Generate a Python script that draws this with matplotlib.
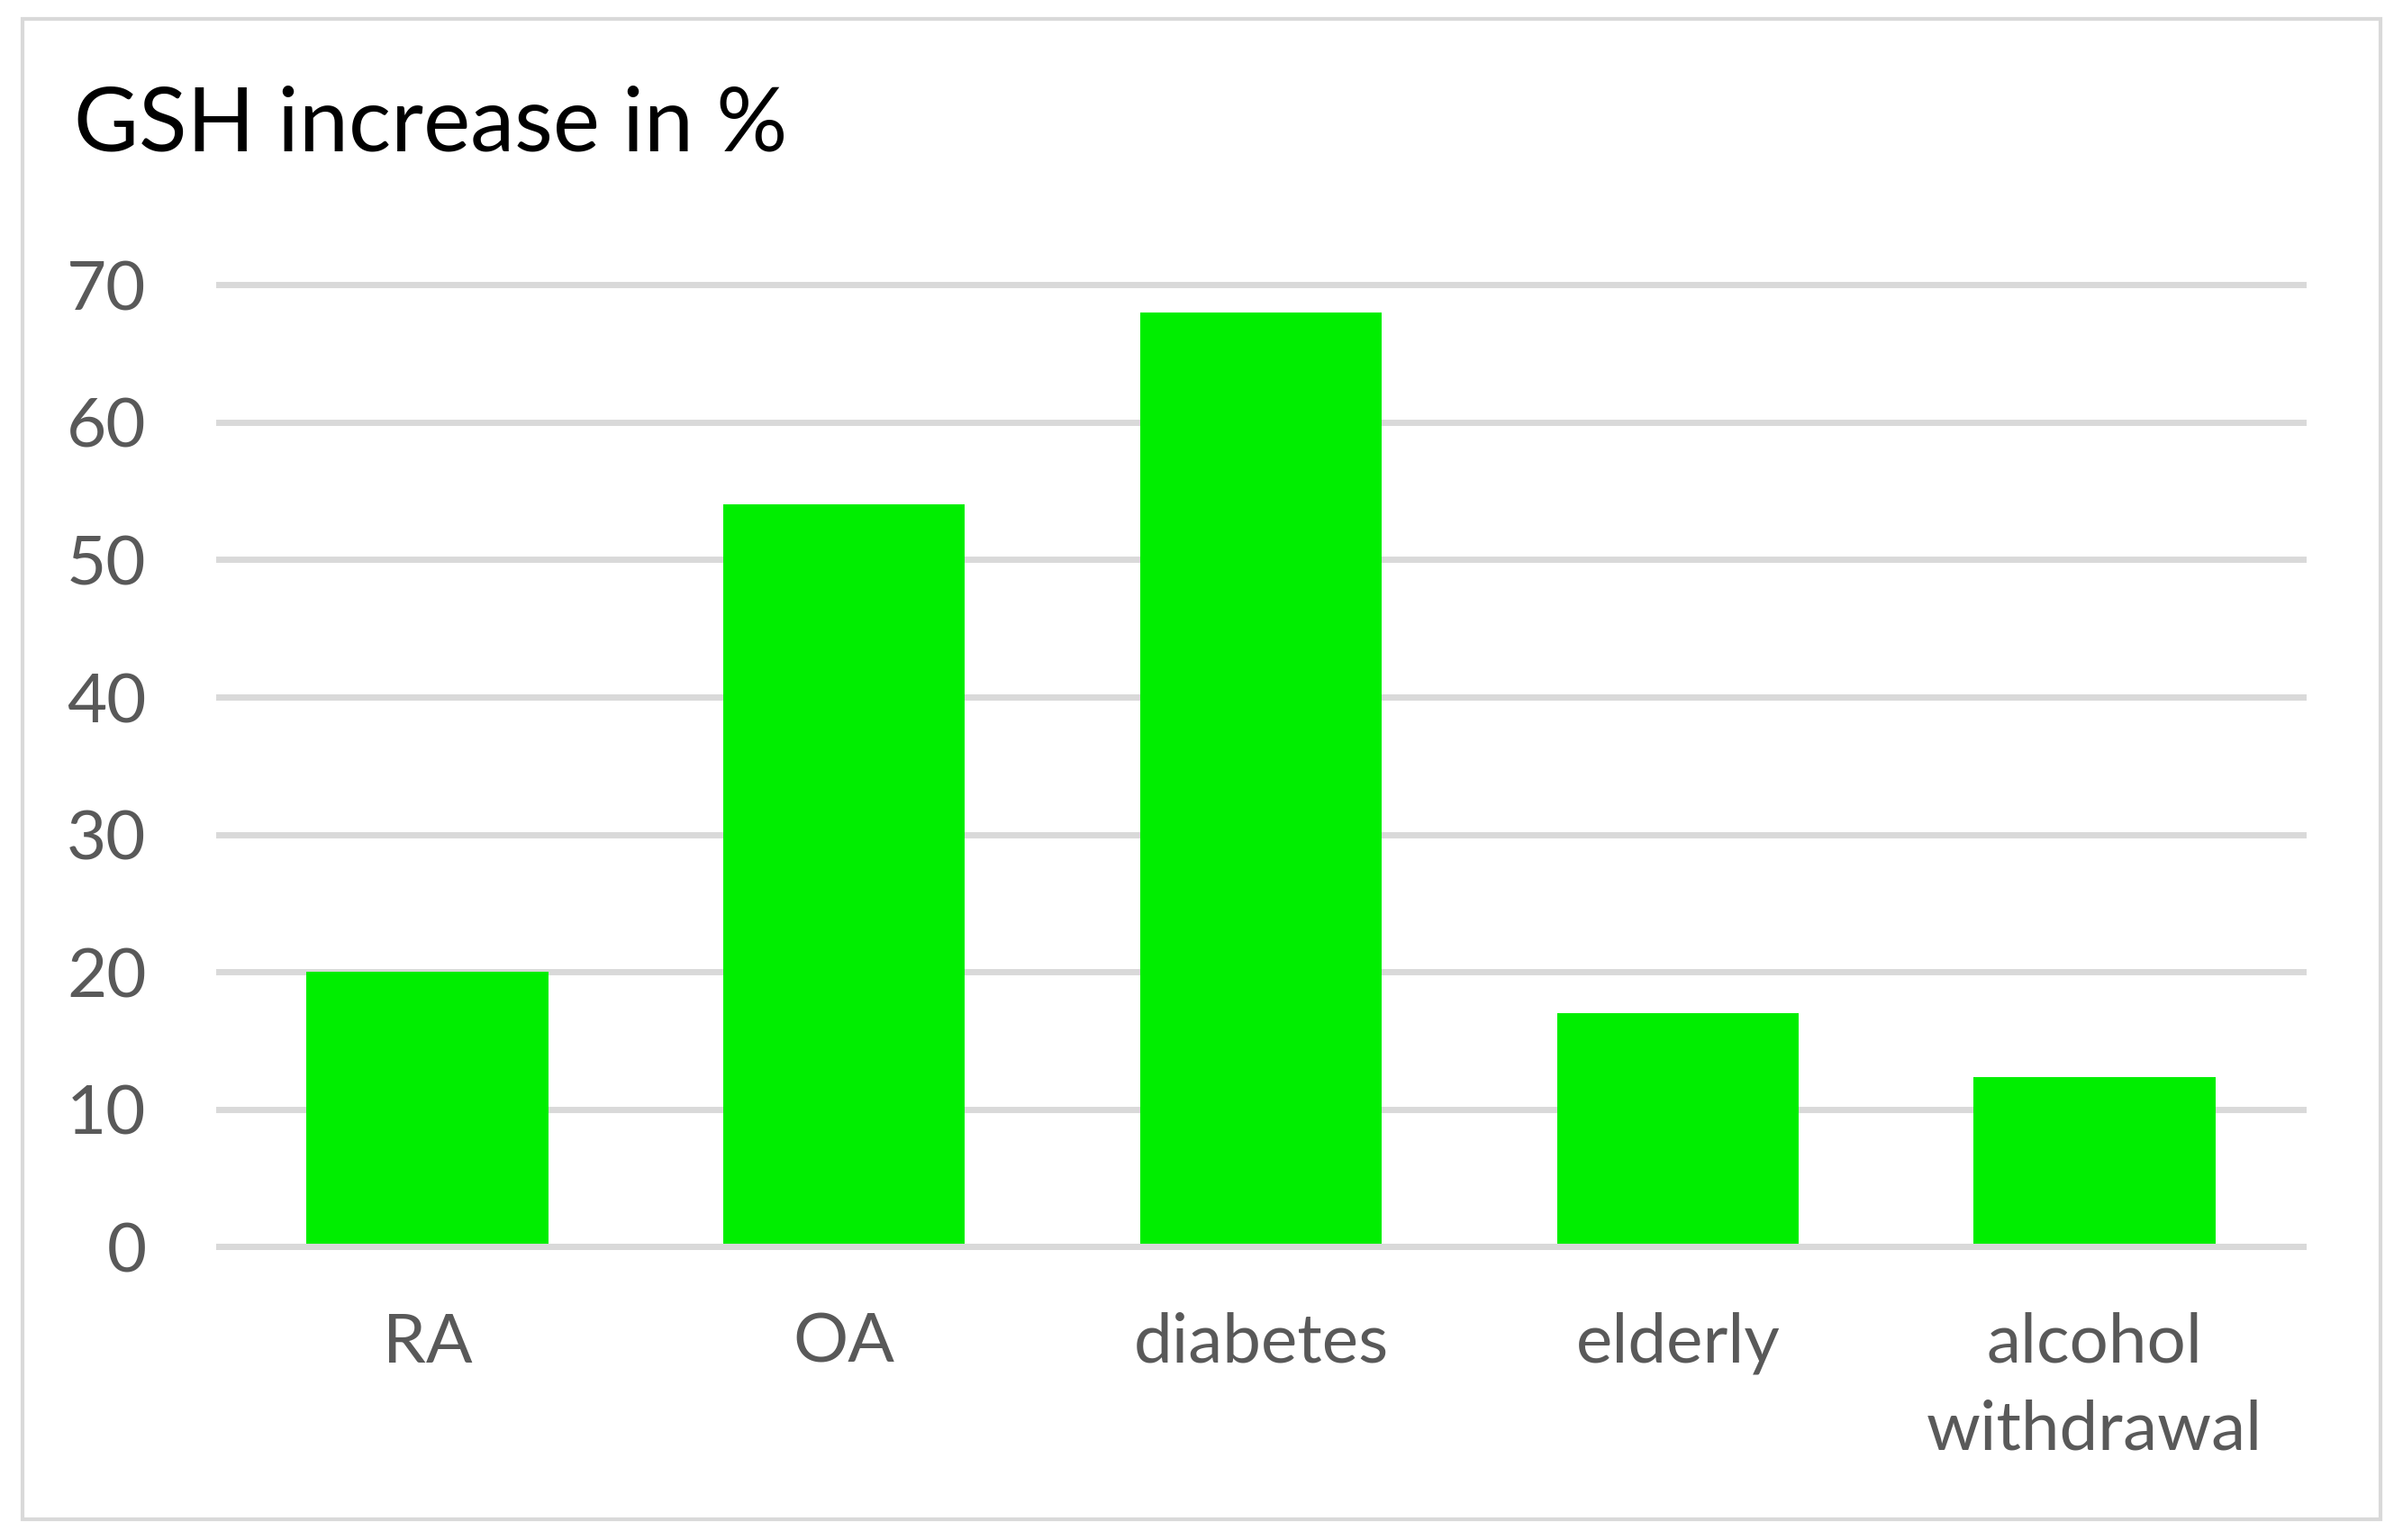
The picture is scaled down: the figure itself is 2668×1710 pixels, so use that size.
import matplotlib
matplotlib.use("Agg")
import matplotlib.pyplot as plt
from matplotlib.patches import Rectangle

categories = ["RA", "OA", "diabetes", "elderly", "alcohol\nwithdrawal"]
values = [20, 54, 68, 17, 12.35]
yticks = [0, 10, 20, 30, 40, 50, 60, 70]
title = "GSH increase in %"

W, H = 2668, 1710
plt.rcParams['font.family'] = ['Lato', 'DejaVu Sans']
fig = plt.figure(figsize=(W / 100, H / 100), dpi=100)
fig.patch.set_facecolor("white")

# outer chart border
fig.patches.append(Rectangle((25 / W, 1 - 1687 / H), (2643 - 25) / W, (1687 - 21) / H,
                             transform=fig.transFigure, fill=False,
                             edgecolor="#D9D9D9", linewidth=3))

left, right = 243 / W, 2557 / W
bottom, top = 1 - 1384.3 / H, 1 - 316.3 / H
ax = fig.add_axes([left, bottom, right - left, top - bottom])

x = list(range(len(categories)))
ax.bar(x, values, width=0.58, color="#00EE00", zorder=2)
ax.set_xlim(-0.5, len(categories) - 0.5)
ax.set_ylim(0, 70)
ax.set_yticks(yticks)
ax.set_xticks(x)
ax.set_xticklabels(categories, linespacing=1.5)

for s in ax.spines.values():
    s.set_visible(False)
ax.grid(axis="y", color="#D9D9D9", linewidth=5, zorder=0)
ax.set_axisbelow(True)
for gl in ax.get_ygridlines():
    gl.set_clip_on(False)
ax.axhline(0, color="#D9D9D9", linewidth=5, zorder=3, clip_on=False)

ax.tick_params(axis="both", length=0, labelsize=55, colors="#595959")
ax.tick_params(axis="y", pad=58)
ax.tick_params(axis="x", pad=52)

fig.text(82 / W, 1 - 168 / H, title, fontsize=71, color="#000000",
         ha="left", va="baseline")

fig.savefig("out.png", dpi=100, facecolor="white")
